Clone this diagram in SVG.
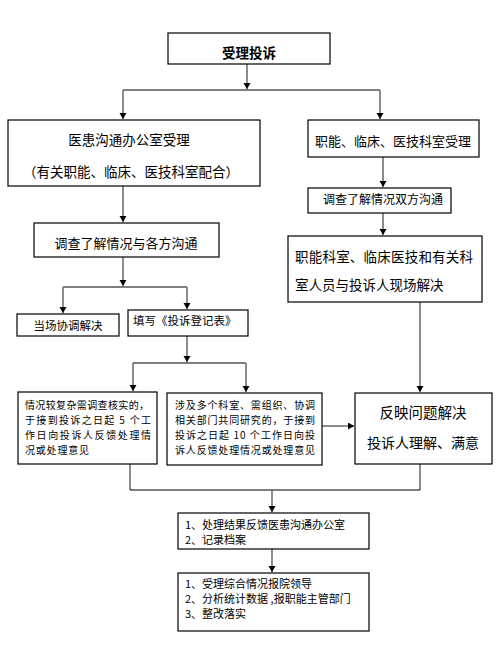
<svg xmlns="http://www.w3.org/2000/svg" width="497" height="645" viewBox="0 0 497 645">
<style>
.box{fill:#fff;stroke:#000;stroke-width:1.2}
text{font-family:"Noto Sans CJK SC","Noto Sans",sans-serif;fill:#000}
.t13{font-size:13.5px}
.t12{font-size:12px}
.t11{font-size:11.5px}
.t11b{font-size:11px}
.t10{font-size:10px}
.v{stroke:#707070;stroke-width:1.6;fill:none}
.h{stroke:#000;stroke-width:1.2;fill:none}
</style>
<defs>
<marker id="ah" markerUnits="userSpaceOnUse" markerWidth="8" markerHeight="8" refX="6" refY="3.5" orient="auto">
<path d="M0,0 L6,3.5 L0,7 Z" fill="#000"/>
</marker>
</defs>
<rect width="497" height="645" fill="#fff"/>
<g id="connectors">
<path class="v" d="M247,64 V89" marker-end="url(#ah)"/>
<path class="h" d="M123,90 H380"/>
<path class="v" d="M123,90 V119" marker-end="url(#ah)"/>
<path class="v" d="M380,90 V119" marker-end="url(#ah)"/>
<path class="v" d="M123,186 V222" marker-end="url(#ah)"/>
<path class="v" d="M383,157 V187" marker-end="url(#ah)"/>
<path class="v" d="M383,213 V235" marker-end="url(#ah)"/>
<path class="v" d="M123,257 V286" marker-end="url(#ah)"/>
<path class="h" d="M63,287 H187"/>
<path class="v" d="M63,287 V313" marker-end="url(#ah)"/>
<path class="v" d="M187,287 V309" marker-end="url(#ah)"/>
<path class="v" d="M187,336 V362" marker-end="url(#ah)"/>
<path class="h" d="M133,363 H246"/>
<path class="v" d="M133,363 V391" marker-end="url(#ah)"/>
<path class="v" d="M246,363 V392" marker-end="url(#ah)"/>
<path class="v" d="M420,302 V392" marker-end="url(#ah)"/>
<path class="v" d="M322,426 H354" marker-end="url(#ah)"/>
<path class="v" d="M130,464 V490"/>
<path class="v" d="M420,464 V490"/>
<path class="h" d="M130,490 H420"/>
<path class="v" d="M272,490 V512" marker-end="url(#ah)"/>
<path class="v" d="M272,549 V572" marker-end="url(#ah)"/>
</g>
<g id="n-accept">
<rect class="box" x="168" y="33" width="162" height="31"/>
<text x="249" y="58" font-size="13.5" font-weight="bold" text-anchor="middle">受理投诉</text>
</g>
<g id="n-office">
<rect class="box" x="8" y="120" width="252" height="66"/>
<text class="t13" x="129" y="145" text-anchor="middle">医患沟通办公室受理</text>
<text class="t13" x="131" y="177" text-anchor="middle">（有关职能、临床、医技科室配合）</text>
</g>
<g id="n-dept">
<rect class="box" x="308" y="120" width="171" height="37"/>
<text x="393" y="146" font-size="13" text-anchor="middle">职能、临床、医技科室受理</text>
</g>
<g id="n-investigate-both">
<rect class="box" x="308" y="188" width="143" height="25"/>
<text class="t12" x="383" y="204" text-anchor="middle">调查了解情况双方沟通</text>
</g>
<g id="n-investigate-all">
<rect class="box" x="34" y="223" width="185" height="34"/>
<text x="126" y="248" font-size="13" text-anchor="middle">调查了解情况与各方沟通</text>
</g>
<g id="n-onsite">
<rect class="box" x="288" y="236" width="194" height="66"/>
<text class="t13" x="295" y="262" textLength="178">职能科室、临床医技和有关科</text>
<text class="t13" x="295" y="290">室人员与投诉人现场解决</text>
</g>
<g id="n-resolve-now">
<rect class="box" x="17" y="314" width="102" height="22"/>
<text class="t11" x="68" y="330" text-anchor="middle">当场协调解决</text>
</g>
<g id="n-register">
<rect class="box" x="128" y="310" width="120" height="26"/>
<text class="t11" x="133" y="325">填写《投诉登记表》</text>
</g>
<g id="n-complex">
<rect class="box" x="18" y="392" width="139" height="72"/>
<text class="t10" x="25" y="409" textLength="124">情况较复杂需调查核实的，</text>
<text class="t10" x="25" y="424" textLength="126">于接到投诉之日起 5 个工</text>
<text class="t10" x="25" y="439" textLength="126">作日向投诉人反馈处理情</text>
<text class="t10" x="25" y="454" textLength="64">况或处理意见</text>
</g>
<g id="n-multi">
<rect class="box" x="167" y="393" width="155" height="72"/>
<text class="t10" x="175" y="409" textLength="140">涉及多个科室、需组织、协调</text>
<text class="t10" x="175" y="424" textLength="140">相关部门共同研究的，于接到</text>
<text class="t10" x="175" y="439" textLength="140">投诉之日起 10 个工作日向投</text>
<text class="t10" x="175" y="454" textLength="140">诉人反馈处理情况或处理意见</text>
</g>
<g id="n-solved">
<rect class="box" x="355" y="393" width="137" height="71"/>
<text x="423" y="418" font-size="14.5" text-anchor="middle">反映问题解决</text>
<text x="423" y="448" font-size="14" text-anchor="middle">投诉人理解、满意</text>
</g>
<g id="n-feedback">
<rect class="box" x="178" y="513" width="191" height="36"/>
<text class="t11b" x="185" y="529">1、处理结果反馈医患沟通办公室</text>
<text class="t11b" x="185" y="544">2、记录档案</text>
</g>
<g id="n-report">
<rect class="box" x="178" y="573" width="191" height="58"/>
<text class="t11b" x="185" y="588">1、受理综合情况报院领导</text>
<text class="t11b" x="185" y="603">2、分析统计数据 ,报职能主管部门</text>
<text class="t11b" x="185" y="618">3、整改落实</text>
</g>
</svg>
